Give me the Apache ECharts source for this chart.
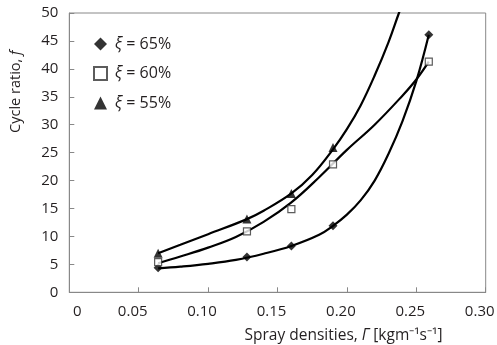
<!DOCTYPE html>
<html>
<head>
<meta charset="utf-8">
<script src="https://cdn.jsdelivr.net/npm/echarts@6/dist/echarts.min.js"></script>
<style>
  html, body { margin: 0; padding: 0; background: #fff; }
  #chart { width: 497px; height: 345px; }
</style>
</head>
<body>
<div id="chart"></div>
<script>
// measured points
const sprayX = [0.064, 0.128, 0.16, 0.19, 0.259];
const ratio65 = [4.4, 6.3, 8.3, 11.9, 46.1];
const ratio60 = [5.4, 10.9, 14.9, 22.9, 41.3];
const ratio55 = [7.0, 13.1, 17.7, 25.9];

// fitted curves
const fit65X = [0.064, 0.08, 0.10, 0.12, 0.14, 0.16, 0.18, 0.19, 0.20, 0.21, 0.22, 0.23, 0.24, 0.25, 0.259];
const fit65Y = [4.3, 4.6, 5.1, 5.8, 6.9, 8.3, 10.3, 11.9, 13.9, 16.5, 20.0, 24.8, 30.6, 37.8, 46.1];
const fit60X = [0.064, 0.08, 0.10, 0.12, 0.14, 0.16, 0.18, 0.20, 0.22, 0.24, 0.25, 0.259];
const fit60Y = [5.2, 6.4, 8.0, 9.9, 12.6, 16.1, 20.6, 25.5, 30.0, 35.2, 38.1, 41.3];
const fit55X = [0.064, 0.08, 0.10, 0.128, 0.14, 0.16, 0.175, 0.19, 0.20, 0.21, 0.22, 0.23, 0.2375, 0.245];
const fit55Y = [7.0, 8.5, 10.4, 13.1, 14.6, 17.7, 21.0, 25.6, 29.2, 33.5, 38.8, 44.8, 50, 55];

const seriesNames = ["ξ = 65%", "ξ = 60%", "ξ = 55%"];

const FONT = "Open Sans";
const TXT = "#231f20";

const pairs = (xs, ys) => ys.map((y, i) => [xs[i], y]);

const chart = echarts.init(document.getElementById("chart"));

const curve = (xs, ys) => ({
  type: "line",
  data: pairs(xs, ys),
  smooth: 0.4,
  showSymbol: false,
  symbol: "none",
  silent: true,
  lineStyle: { color: "#000", width: 2.2 },
  z: 2,
});

chart.setOption({
  animation: false,
  grid: {
    left: 69.3,
    right: 11.3,
    top: 13,
    bottom: 52.7,
    outerBoundsMode: "none",
    show: true,
    borderColor: "#888",
    borderWidth: 1,
  },
  legend: {
    data: seriesNames,
    orient: "vertical",
    left: 88,
    top: 31,
    itemWidth: 13,
    itemHeight: 13,
    itemGap: 13.5,
    formatter: (name) => "{i|ξ}{a|" + name.slice(1) + "}",
    textStyle: {
      fontFamily: FONT,
      fontSize: 16,
      color: TXT,
      rich: {
        i: { fontFamily: FONT, fontSize: 16, fontStyle: "italic", color: TXT, lineHeight: 14, padding: [0, 0, 0, 3] },
        a: { fontFamily: FONT, fontSize: 16, color: TXT, lineHeight: 14 },
      },
    },
  },
  xAxis: {
    type: "value",
    min: 0,
    max: 0.3,
    interval: 0.05,
    name: "{a|Spray densities, }{i|Γ}{a| [kgm⁻¹s⁻¹]}",
    nameLocation: "middle",
    nameGap: 35,
    nameTextStyle: {
      padding: [0, 0, 0, 132],
      rich: {
        a: { fontFamily: FONT, fontSize: 15.5, color: TXT },
        i: { fontFamily: FONT, fontSize: 15.5, fontStyle: "italic", color: TXT },
      },
    },
    axisLine: { lineStyle: { color: "#888", width: 1 } },
    axisTick: { inside: true, length: 5, lineStyle: { color: "#888" } },
    splitLine: { show: false },
    axisLabel: {
      margin: 12,
      formatter: (v) => (v === 0 ? "{z|0}" : "{n|" + v.toFixed(2) + "}"),
      rich: {
        z: { fontFamily: FONT, fontSize: 15, color: TXT, padding: [0, 0, 0, 16] },
        n: { fontFamily: FONT, fontSize: 15, color: TXT, padding: [0, 12, 0, 0] },
      },
    },
  },
  yAxis: {
    type: "value",
    min: 0,
    max: 50,
    interval: 5,
    name: "{a|Cycle ratio, }{i|f}",
    nameLocation: "middle",
    nameGap: 46,
    nameTextStyle: {
      padding: [0, 0, 0, 122],
      rich: {
        a: { fontFamily: FONT, fontSize: 14.5, color: TXT },
        i: { fontFamily: FONT, fontSize: 14.5, fontStyle: "italic", color: TXT },
      },
    },
    axisLine: { show: true, lineStyle: { color: "#888", width: 1 } },
    axisTick: { show: true, inside: true, length: 5, lineStyle: { color: "#888" } },
    splitLine: { show: false },
    axisLabel: { margin: 11, fontFamily: FONT, fontSize: 15, color: TXT },
  },
  series: [
    curve(fit65X, fit65Y),
    curve(fit60X, fit60Y),
    curve(fit55X, fit55Y),
    {
      name: seriesNames[0],
      type: "scatter",
      symbol: "diamond",
      symbolSize: 9,
      data: pairs(sprayX, ratio65),
      itemStyle: { color: "#000" },
      z: 5,
    },
    {
      name: seriesNames[1],
      type: "scatter",
      symbol: "rect",
      symbolSize: 7,
      data: pairs(sprayX, ratio60),
      itemStyle: { color: "#fff", borderColor: "#333", borderWidth: 1.2 },
      z: 5,
    },
    {
      name: seriesNames[2],
      type: "scatter",
      symbol: "triangle",
      symbolSize: 9,
      data: pairs(sprayX, ratio55),
      itemStyle: { color: "#000" },
      z: 5,
    },
  ],
});
</script>
</body>
</html>
